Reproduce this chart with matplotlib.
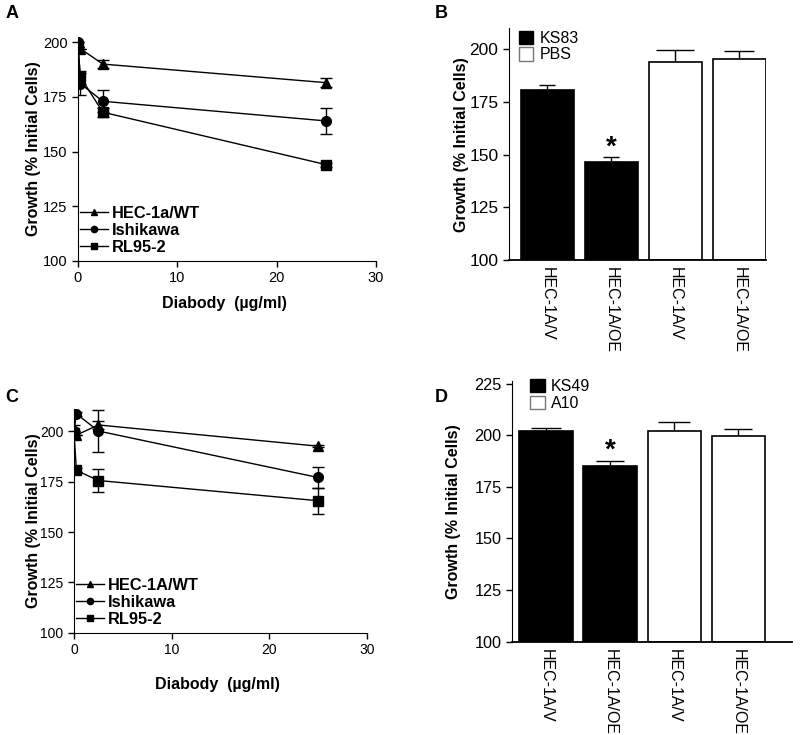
import matplotlib
matplotlib.use("Agg")
import matplotlib.pyplot as plt
from matplotlib.lines import Line2D
from matplotlib.patches import Patch

plt.rcParams['font.family'] = ['Liberation Sans', 'DejaVu Sans']

# dose-response data (panels A and C)
conc = [0, 0.25, 2.5, 25]
series_names_a = ['HEC-1a/WT', 'Ishikawa', 'RL95-2']
series_names_c = ['HEC-1A/WT', 'Ishikawa', 'RL95-2']
markers = ['^', 'o', 's']

a_wt = [198, 197, 190, 181.5]
a_wt_err = [0, 0, 2, 2]
a_ish = [200, 181, 173, 164]
a_ish_err = [0, 5, 5, 6]
a_rl = [198, 184, 168, 144]
a_rl_err = [0, 3, 2, 1]

c_wt = [200, 198, 203, 192.5]
c_wt_err = [0, 0, 2, 0.5]
c_ish = [200, 208.5, 200, 177]
c_ish_err = [3, 1, 10.5, 5]
c_rl = [199, 180.5, 175.5, 165.5]
c_rl_err = [0, 1, 5.5, 6.5]

# bar data (panels B and D)
bar_labels = ['HEC-1A/V', 'HEC-1A/OE', 'HEC-1A/V', 'HEC-1A/OE']
bar_fill = ['black', 'black', 'white', 'white']

b_vals = [180.5, 146.5, 194.2, 195.5]
b_err = [2.5, 2.5, 5.6, 3.6]
b_legend = ['KS83', 'PBS']

d_vals = [202, 185, 202, 199.8]
d_err = [1.5, 2.5, 4.6, 3]
d_legend = ['KS49', 'A10']

fig = plt.figure(figsize=(8, 7.35), dpi=100)


def line_panel(rect, ys, errs, names, ylim, ticksize, ylab_x, xlab_y):
    ax = fig.add_axes(rect)
    for y, e, m in zip(ys, errs, markers):
        ax.errorbar(conc, y, yerr=e, color='black', marker=m, markersize=7,
                    lw=1, capsize=4, capthick=1, elinewidth=1)
    ax.set_xlim(0, 30)
    ax.set_ylim(*ylim)
    ax.set_xticks([0, 10, 20, 30])
    ax.set_yticks([100, 125, 150, 175, 200])
    for s in ['top', 'right']:
        ax.spines[s].set_visible(False)
    ax.spines['left'].set_bounds(100, ylim[1])
    ax.tick_params(labelsize=ticksize, length=4, width=1)
    ax.set_ylabel('Growth (% Initial Cells)', fontsize=11.5, fontweight='bold')
    ax.yaxis.set_label_coords(ylab_x, 0.5)
    ax.set_xlabel('Diabody  (\u00b5g/ml)', fontsize=11.5, fontweight='bold')
    ax.xaxis.set_label_coords(0.49, xlab_y)
    ax.xaxis.label.set_va('center')
    handles = [Line2D([], [], color='black', marker=m, markersize=4.5, lw=1) for m in markers]
    ax.legend(handles, names, loc='lower left', bbox_to_anchor=(0.0, 0.02),
              frameon=False, handlelength=1.7, handletextpad=0.25,
              labelspacing=0.12, borderpad=0.1, borderaxespad=0,
              prop={'weight': 'bold', 'size': 11.8})
    return ax


def bar_panel(rect, vals, errs, legend_names, ylim, xlim, yticks, ticksize,
              ylab_x, caps, star_y, leg_anchor):
    ax = fig.add_axes(rect)
    x = list(range(len(vals)))
    ax.bar(x, [v - 100 for v in vals], bottom=100, width=0.83,
           color=bar_fill, edgecolor='black', linewidth=1.2, zorder=2)
    for xi, v, e, c in zip(x, vals, errs, caps):
        ax.errorbar(xi, v, yerr=[[0], [e]], color='black', capsize=c,
                    capthick=1, elinewidth=1, zorder=1)
    ax.text(1, star_y, '*', ha='center', va='center', fontsize=20, fontweight='bold')
    ax.set_xlim(*xlim)
    ax.set_ylim(*ylim)
    ax.set_yticks(yticks)
    ax.set_xticks(x)
    ax.set_xticklabels(bar_labels, rotation=270, fontsize=11.5, va='top')
    ax.tick_params(axis='x', length=0, pad=5)
    ax.tick_params(axis='y', labelsize=ticksize, length=4, width=1)
    for s in ['top', 'right']:
        ax.spines[s].set_visible(False)
    ax.spines['bottom'].set_linewidth(1.3)
    ax.set_ylabel('Growth (% Initial Cells)', fontsize=11.5, fontweight='bold')
    ax.yaxis.set_label_coords(ylab_x, 0.5)
    handles = [Patch(facecolor='black', edgecolor='black'),
               Patch(facecolor='white', edgecolor='#777777')]
    ax.legend(handles, legend_names, loc='upper left', bbox_to_anchor=leg_anchor,
              frameon=False, handlelength=0.9, handleheight=0.9,
              handletextpad=0.4, labelspacing=0.1, borderpad=0,
              borderaxespad=0, fontsize=11.5)
    return ax


line_panel([0.0975, 0.645, 0.3725, 0.305], [a_wt, a_ish, a_rl],
           [a_wt_err, a_ish_err, a_rl_err], series_names_a, (100, 202.5),
           10.5, -0.124, -0.19)
line_panel([0.0925, 0.1388, 0.366, 0.305], [c_wt, c_ish, c_rl],
           [c_wt_err, c_ish_err, c_rl_err], series_names_c, (100, 211),
           10, -0.112, -0.232)

bar_panel([0.636, 0.646, 0.321, 0.3156], b_vals, b_err, b_legend, (100, 210),
          (-0.6, 3.415), [100, 125, 150, 175, 200], 12.5, -0.155,
          [5.5, 5.5, 14, 10.5], 153.5, (0.04, 0.99))
bar_panel([0.64, 0.127, 0.35, 0.354], d_vals, d_err, d_legend, (100, 226),
          (-0.53, 3.84), [100, 125, 150, 175, 200, 225], 11.7, -0.182,
          [11, 10, 11.5, 10], 192.5, (0.065, 1.01))

for lab, px, py in [('A', 12, 14), ('B', 441, 14), ('C', 12, 397), ('D', 441, 397)]:
    fig.text(px / 800, 1 - py / 735, lab, fontsize=13, fontweight='bold',
             ha='center', va='center')

fig.savefig('out.png', dpi=100)
